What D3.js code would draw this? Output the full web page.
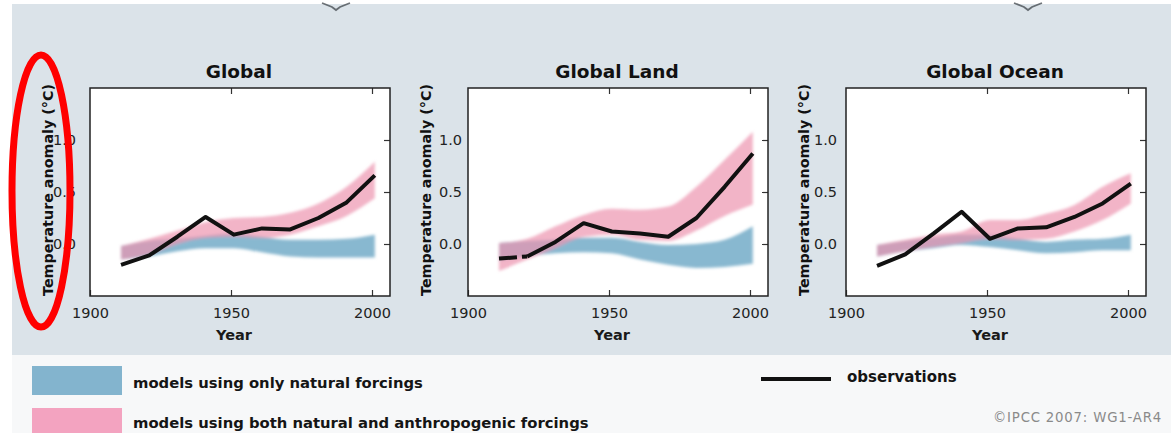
<!DOCTYPE html>
<html>
<head>
<meta charset="utf-8">
<script src="https://cdn.jsdelivr.net/npm/d3@7"></script>
<style>
  html, body { margin: 0; padding: 0; background: #fff; }
  svg { display: block; }
</style>
</head>
<body>
<svg id="chart" width="1171" height="433"></svg>
<script>
// Decadal centres (1906–2005 decades)
const years = [1911, 1921, 1931, 1941, 1951, 1961, 1971, 1981, 1991, 2001];

// Global
const globalObs   = [-0.20, -0.11, 0.07, 0.26, 0.09, 0.15, 0.14, 0.25, 0.40, 0.66];
const globalAllLo = [-0.15, -0.10, 0.00, 0.06, 0.07, 0.06, 0.09, 0.17, 0.27, 0.44];
const globalAllHi = [-0.02, 0.05, 0.13, 0.21, 0.25, 0.26, 0.30, 0.39, 0.55, 0.79];
const globalNatLo = [-0.15, -0.12, -0.07, -0.04, -0.04, -0.08, -0.12, -0.13, -0.13, -0.13];
const globalNatHi = [-0.02, 0.03, 0.05, 0.08, 0.10, 0.07, 0.04, 0.04, 0.05, 0.09];

// Global Land
const landObs   = [-0.14, -0.12, 0.02, 0.20, 0.12, 0.10, 0.07, 0.25, 0.55, 0.87];
const landAllLo = [-0.26, -0.15, -0.04, 0.07, 0.09, 0.04, 0.03, 0.13, 0.27, 0.38];
const landAllHi = [0.01, 0.05, 0.17, 0.28, 0.34, 0.33, 0.36, 0.55, 0.81, 1.08];
const landNatLo = [-0.16, -0.12, -0.09, -0.08, -0.09, -0.15, -0.20, -0.23, -0.22, -0.19];
const landNatHi = [0.01, 0.03, 0.04, 0.06, 0.06, 0.02, -0.01, 0.00, 0.04, 0.17];

// Global Ocean
const oceanObs   = [-0.21, -0.10, 0.10, 0.31, 0.05, 0.15, 0.16, 0.26, 0.39, 0.58];
const oceanAllLo = [-0.12, -0.07, -0.03, 0.01, 0.05, 0.04, 0.05, 0.12, 0.23, 0.39];
const oceanAllHi = [-0.01, 0.04, 0.09, 0.12, 0.23, 0.23, 0.29, 0.375, 0.55, 0.68];
const oceanNatLo = [-0.12, -0.07, -0.04, -0.01, -0.03, -0.06, -0.09, -0.08, -0.06, -0.06];
const oceanNatHi = [-0.01, 0.03, 0.06, 0.09, 0.09, 0.05, 0.02, 0.04, 0.05, 0.09];

// Axis ticks and texts
const xTicks = [1900, 1950, 2000];
const yTicks = [0.0, 0.5, 1.0];
const panelTitles = ["Global", "Global Land", "Global Ocean"];
const yTitle = "Temperature anomaly (°C)";
const xTitle = "Year";
const legendNat = "models using only natural forcings";
const legendAll = "models using both natural and anthropogenic forcings";
const legendObs = "observations";
const credit = "©IPCC 2007: WG1-AR4";

// Years whose decade is drawn dashed (sparse coverage)
const landDashedUntil = 1921;

const panels = [
  { title: panelTitles[0], left: 90,  obs: globalObs, allLo: globalAllLo, allHi: globalAllHi, natLo: globalNatLo, natHi: globalNatHi, dashedUntil: null, labelGap: 14 },
  { title: panelTitles[1], left: 468, obs: landObs,   allLo: landAllLo,   allHi: landAllHi,   natLo: landNatLo,   natHi: landNatHi,   dashedUntil: landDashedUntil, labelGap: 6 },
  { title: panelTitles[2], left: 846, obs: oceanObs,  allLo: oceanAllLo,  allHi: oceanAllHi,  natLo: oceanNatLo,  natHi: oceanNatHi,  dashedUntil: null, labelGap: 9 }
];

const svg = d3.select("#chart");
const W = 1171, H = 433;

// Backgrounds
svg.append("rect").attr("width", W).attr("height", H).attr("fill", "#ffffff");
svg.append("rect").attr("x", 12).attr("y", 4).attr("width", W - 12).attr("height", 351).attr("fill", "#dbe3e9");
svg.append("rect").attr("x", 12).attr("y", 355).attr("width", W - 12).attr("height", H - 355).attr("fill", "#f7f8f9");

const defs = svg.append("defs");
defs.append("filter").attr("id", "soft")
  .attr("x", "-10%").attr("y", "-30%").attr("width", "120%").attr("height", "160%")
  .append("feGaussianBlur").attr("stdDeviation", 1.8);

// Small fragments of artwork along the top edge
[[322, 350], [1014, 1042]].forEach(([a, b]) => {
  const m = (a + b) / 2;
  svg.append("path")
    .attr("d", `M${a},3 L${m - 4},7 L${m},10 L${m + 4},7 L${b},3`)
    .attr("fill", "none").attr("stroke", "#3f454b").attr("stroke-width", 1.8).attr("opacity", 0.75);
});

const plotTop = 88, plotBottom = 296, pw = 300;
const font = "'DejaVu Sans', 'Liberation Sans', Arial, sans-serif";

const blue = "#7cb0cb";
const pink = "#ec94af";

panels.forEach(p => {
  const x = d3.scaleLinear().domain([1900, 1900 + pw / 2.82]).range([p.left, p.left + pw]);
  const y = d3.scaleLinear().domain([-0.5, 1.5]).range([plotBottom, plotTop]);
  const g = svg.append("g");

  g.append("rect").attr("x", p.left).attr("y", plotTop).attr("width", pw).attr("height", plotBottom - plotTop).attr("fill", "#ffffff");

  const rows = years.map((yr, i) => ({ yr, obs: p.obs[i], aLo: p.allLo[i], aHi: p.allHi[i], nLo: p.natLo[i], nHi: p.natHi[i] }));

  const natArea = d3.area().curve(d3.curveMonotoneX)
    .x(d => x(d.yr)).y0(d => y(d.nLo)).y1(d => y(d.nHi));
  const allArea = d3.area().curve(d3.curveMonotoneX)
    .x(d => x(d.yr)).y0(d => y(d.aLo)).y1(d => y(d.aHi));

  const bands = g.append("g").attr("filter", "url(#soft)");
  bands.append("path").datum(rows).attr("d", natArea).attr("fill", blue).attr("opacity", 0.9);
  bands.append("path").datum(rows).attr("d", allArea).attr("fill", pink).attr("opacity", 0.7);

  // Observations
  const line = d3.line().x(d => x(d.yr)).y(d => y(d.obs));
  const obsLine = g.append("g").attr("fill", "none").attr("stroke", "#111").attr("stroke-width", 4)
    .attr("stroke-linejoin", "round");
  if (p.dashedUntil !== null) {
    const early = rows.filter(d => d.yr <= p.dashedUntil);
    const late = rows.filter(d => d.yr >= p.dashedUntil);
    obsLine.append("path").datum(early).attr("d", line).attr("stroke-dasharray", "18,5");
    obsLine.append("path").datum(late).attr("d", line);
  } else {
    obsLine.append("path").datum(rows).attr("d", line);
  }

  // Axes
  const styleAxis = sel => {
    sel.select(".domain").remove();
    sel.selectAll("line").attr("stroke", "#333").attr("stroke-width", 1.2);
    sel.selectAll("text").attr("font-family", font).attr("font-size", 14.5).attr("fill", "#222");
  };
  g.append("g").attr("transform", `translate(0,${plotBottom})`)
    .call(d3.axisBottom(x).tickValues(xTicks).tickFormat(d3.format("d")).tickSizeInner(-6).tickSizeOuter(0).tickPadding(12))
    .call(styleAxis);
  g.append("g").attr("transform", `translate(0,${plotTop})`)
    .call(d3.axisTop(x).tickValues(xTicks.slice(1)).tickFormat("").tickSizeInner(-6).tickSizeOuter(0))
    .call(styleAxis);
  g.append("g").attr("transform", `translate(${p.left + pw},0)`)
    .call(d3.axisRight(y).tickValues(yTicks).tickFormat("").tickSizeInner(-6).tickSizeOuter(0))
    .call(styleAxis);
  g.append("g").attr("transform", `translate(${p.left},0)`)
    .call(d3.axisLeft(y).tickValues(yTicks).tickFormat(d3.format(".1f")).tickSize(0).tickPadding(p.labelGap))
    .call(styleAxis);

  // Frame
  g.append("rect").attr("x", p.left).attr("y", plotTop).attr("width", pw).attr("height", plotBottom - plotTop)
    .attr("fill", "none").attr("stroke", "#222").attr("stroke-width", 1.5);

  // Titles
  g.append("text").attr("x", p.left + pw / 2 - 1).attr("y", 78).attr("text-anchor", "middle")
    .attr("font-family", font).attr("font-weight", "bold").attr("font-size", 18.5).attr("fill", "#111")
    .text(p.title);
  g.append("text").attr("x", x(1950) + 3).attr("y", 340).attr("text-anchor", "middle")
    .attr("font-family", font).attr("font-weight", "bold").attr("font-size", 14.5).attr("fill", "#1a1a1a")
    .text(xTitle);
  g.append("text")
    .attr("transform", `translate(${p.left - 42},190) rotate(-90)`)
    .attr("text-anchor", "middle").attr("dy", "0.35em")
    .attr("font-family", font).attr("font-weight", "bold").attr("font-size", 14.3).attr("fill", "#111")
    .text(yTitle);
});

// Legend
const lg = svg.append("g");
lg.append("rect").attr("x", 32).attr("y", 366).attr("width", 90).attr("height", 29).attr("fill", blue).attr("opacity", 0.95);
lg.append("rect").attr("x", 32).attr("y", 408).attr("width", 90).attr("height", 30).attr("fill", "#f3a3c0");
lg.append("text").attr("x", 133).attr("y", 388).attr("font-family", font).attr("font-weight", "bold")
  .attr("font-size", 14.8).attr("fill", "#151515").text(legendNat);
lg.append("text").attr("x", 133).attr("y", 428).attr("font-family", font).attr("font-weight", "bold")
  .attr("font-size", 14.8).attr("fill", "#151515").text(legendAll);
lg.append("line").attr("x1", 761).attr("x2", 831).attr("y1", 379).attr("y2", 379)
  .attr("stroke", "#111").attr("stroke-width", 4);
lg.append("text").attr("x", 847).attr("y", 382).attr("font-family", font).attr("font-weight", "bold")
  .attr("font-size", 15).attr("fill", "#151515").text(legendObs);
lg.append("text").attr("x", 993).attr("y", 422).attr("font-family", font)
  .attr("font-size", 13.3).attr("letter-spacing", 0.8).attr("fill", "#8a8a8a").text(credit);

// Highlight ring around the first vertical axis title
svg.append("ellipse").attr("cx", 41).attr("cy", 191).attr("rx", 29).attr("ry", 136)
  .attr("fill", "none").attr("stroke", "#ff0000").attr("stroke-width", 7);
</script>
</body>
</html>
